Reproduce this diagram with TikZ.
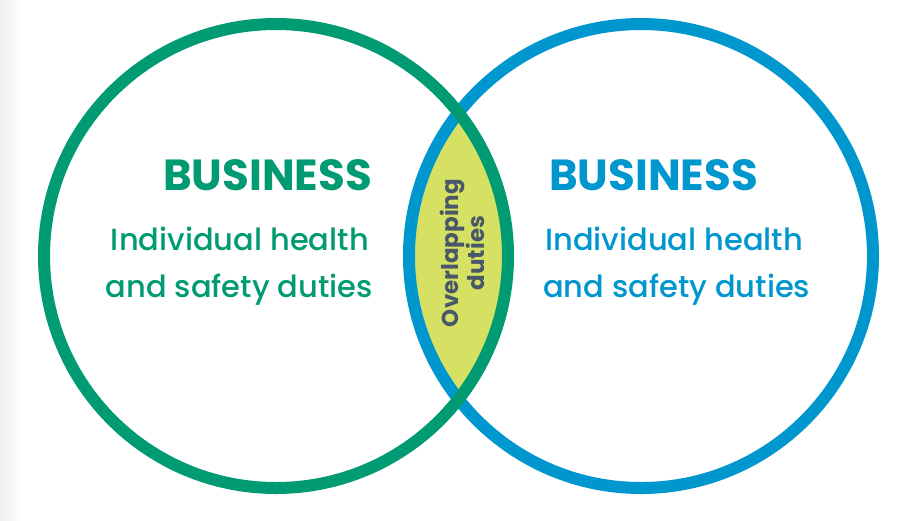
\documentclass[tikz,border=0pt]{standalone}
\usepackage{fontspec}
\setmainfont{Poppins}
\newfontfamily\popbold{Poppins Bold}
\newfontfamily\popmed{Poppins Medium}
\definecolor{vgreen}{RGB}{0,155,114}
\definecolor{vblue}{RGB}{0,150,206}
\definecolor{lens}{RGB}{214,225,100}
\definecolor{slate}{RGB}{72,88,104}
\tikzset{
  ring/.style={line width=12pt},
  head/.style={font=\popbold\fontsize{43.5}{44}\selectfont, inner sep=0pt},
  body/.style={font=\popmed\fontsize{30.5}{31}\selectfont, inner sep=0pt},
  lenslabel/.style={font=\popbold\fontsize{23}{24}\selectfont, text=slate, align=center, rotate=90, inner sep=0pt}
}
\begin{document}
\begin{tikzpicture}[x=1pt,y=-1pt]
\useasboundingbox (0,0) rectangle (918,520);
\fill[white] (0,0) rectangle (918,520);
\shade[left color=black!6, right color=white] (0,0) rectangle (22,520);
\coordinate (cg) at (276,256);
\coordinate (cb) at (641,256);
% lens
\begin{scope}
  \clip (cg) circle (232pt);
  \fill[lens] (cb) circle (232pt);
\end{scope}
\draw[ring, vblue] (cb) circle (232pt);
\draw[ring, vgreen] (cg) circle (232pt);
% left texts
\node[head, text=vgreen, anchor=base east] (lb) at (372,190) {BUSINESS};
\node[body, text=vgreen, anchor=base east] (l1) at (369,250) {Individual health};
\node[body, text=vgreen, anchor=base east] (l2) at (373,297) {and safety duties};
% right texts
\node[head, text=vblue, anchor=base west] (rb) at (549,190) {BUSINESS};
\node[body, text=vblue, anchor=base west] (r1) at (545,250) {Individual health};
\node[body, text=vblue, anchor=base west] (r2) at (543,297) {and safety duties};
% overlap label
\node[lenslabel] (ov) at (462,253) {Overlapping\\duties};
\end{tikzpicture}
\end{document}
